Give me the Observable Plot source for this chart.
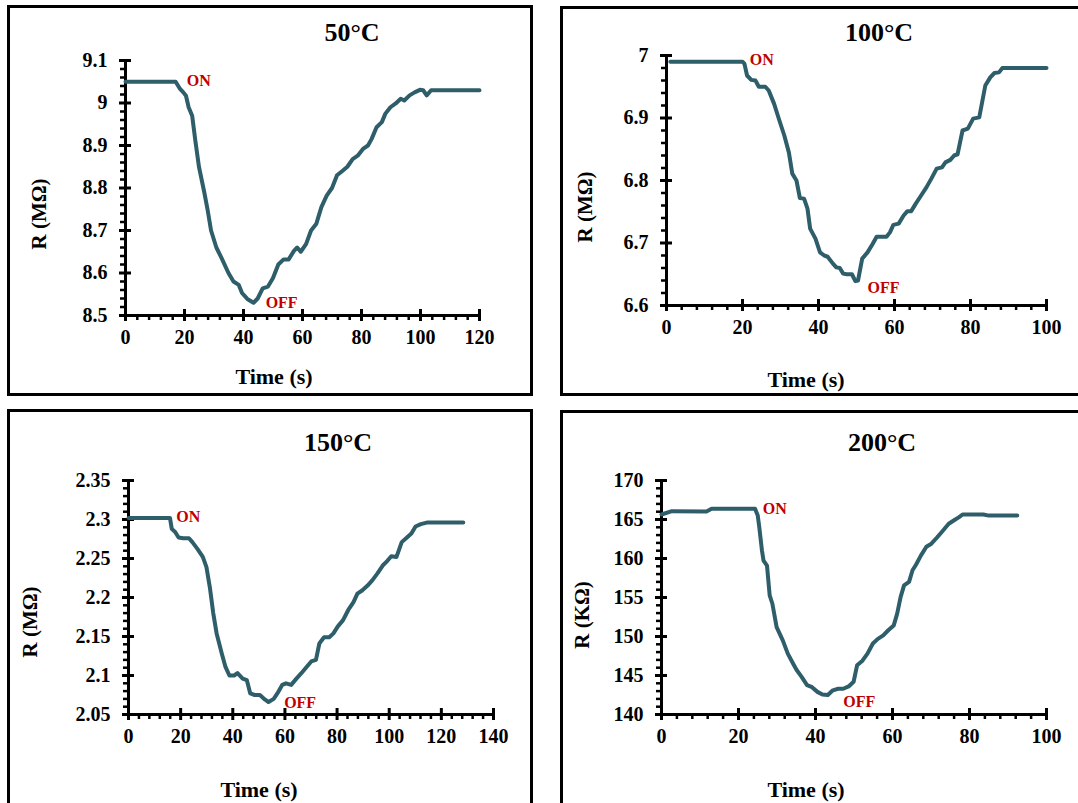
<!DOCTYPE html>
<html><head><meta charset="utf-8">
<script src="https://cdn.jsdelivr.net/npm/d3@7"></script>
<script src="https://cdn.jsdelivr.net/npm/@observablehq/plot@0.6"></script>
<style>
body{margin:0;background:#fff;width:1078px;height:803px;overflow:hidden;position:relative;font-family:"Liberation Serif","Times New Roman",serif;font-weight:bold;}
.box{position:absolute;border:3px solid #000;box-sizing:border-box;}
.lbl{position:absolute;transform:translate(-50%,-50%);white-space:nowrap;color:#000;font-weight:bold;}
.title{font-size:26px;}
.axl{font-size:22px;}
.ylab{transform:translate(-50%,-50%) rotate(-90deg);font-size:21px;}
.plot{position:absolute;}
</style></head><body>
<script>
// ---- Data ----
const t50 = [0,17,18.5,19.6,20.5,21.4,22.6,23.7,24.9,26.7,27.8,29,30.8,32.5,34.9,36.6,38.4,39.5,41.3,43.4,44.8,46.5,48.3,50,51.8,53.6,55.3,57.1,58.2,59.4,61.2,62.9,64.7,66.4,68.2,70,71.7,73.5,75.2,77,78.7,80.5,82.2,83.4,85.1,86.9,88.1,89.8,91.6,93.3,94.5,96.3,98,99.8,100.9,102.1,103.6,120];
const r50 = [9.05,9.05,9.033,9.025,9.017,8.99,8.97,8.91,8.85,8.79,8.75,8.70,8.66,8.636,8.60,8.58,8.572,8.553,8.539,8.53,8.54,8.564,8.568,8.588,8.62,8.632,8.632,8.652,8.66,8.65,8.668,8.70,8.716,8.755,8.782,8.80,8.83,8.84,8.85,8.868,8.876,8.892,8.90,8.915,8.943,8.955,8.975,8.99,8.999,9.01,9.006,9.018,9.025,9.031,9.03,9.018,9.03,9.03];

const t100 = [1,20,20.5,21.2,22.3,23.4,24.3,26,26.9,28.3,29.6,31,32.2,33.1,34.2,35.1,36.2,37.1,37.8,39.2,40.4,41.5,42.4,43.8,44.7,45.6,46.5,47.4,48.8,49.7,50.4,51.5,52.9,54.2,55.3,57.9,58.8,59.7,61.1,62.4,63.4,64.4,65.6,67,68.4,69.7,71.1,72.5,73.4,74.7,75.7,76.6,77.9,79.3,80.7,82.3,83.9,85.2,86.3,87.5,88.4,100];
const r100 = [6.99,6.99,6.987,6.968,6.961,6.96,6.95,6.95,6.944,6.923,6.898,6.872,6.845,6.811,6.80,6.772,6.771,6.755,6.723,6.707,6.685,6.68,6.678,6.667,6.661,6.66,6.651,6.65,6.65,6.639,6.64,6.675,6.685,6.698,6.71,6.71,6.717,6.729,6.731,6.744,6.751,6.751,6.763,6.776,6.789,6.803,6.819,6.821,6.829,6.833,6.84,6.842,6.88,6.883,6.899,6.901,6.952,6.965,6.972,6.973,6.98,6.98];

const t150 = [0,15.9,16.6,17.9,19.2,21,23.2,24.5,26.5,28.5,29.9,31.2,32.5,33.8,35.8,37.2,38.7,40.5,41.8,43.8,45.4,46.7,48.4,50.4,52.4,53.7,55.7,57.1,59,60.4,62.4,64.4,66.3,68.3,70.1,71.9,73.2,75,77,78.6,80.3,82.3,84.3,86.3,87.8,89.6,91.6,93.5,95.5,97.5,99.3,100.8,102.8,104.8,106.8,108.5,110.1,112.1,114.4,128.4];
const r150 = [2.302,2.302,2.288,2.284,2.277,2.276,2.276,2.271,2.262,2.252,2.239,2.213,2.18,2.154,2.128,2.111,2.10,2.10,2.103,2.096,2.094,2.077,2.075,2.075,2.069,2.066,2.07,2.077,2.088,2.09,2.088,2.096,2.103,2.111,2.118,2.12,2.141,2.149,2.149,2.154,2.163,2.171,2.184,2.194,2.205,2.209,2.215,2.222,2.231,2.241,2.247,2.253,2.252,2.271,2.277,2.282,2.291,2.294,2.296,2.296];

const t200 = [0,2.7,11.7,13,24.3,25,25.4,26.1,26.5,27.4,28.1,28.8,29.9,31.5,32.8,34.2,35.1,36.4,37.8,39.1,40.5,41.8,43.2,44.5,45.9,47.2,48.6,49.9,50.8,52.2,53.5,54.9,56.2,57.6,58.9,60.3,61.2,62.1,63,64.3,65.2,66.1,67.4,68.8,70.1,71.5,72.8,74.6,76,77.3,78.2,83.6,85,92.4];
const r200 = [165.64,166.07,166.03,166.37,166.37,165.5,164.02,161.0,159.74,159.1,155.27,154.2,151.2,149.5,147.8,146.5,145.7,144.83,143.77,143.5,142.9,142.56,142.5,143.1,143.3,143.3,143.6,144.2,146.3,146.9,147.8,149.1,149.7,150.15,150.8,151.4,152.9,155.05,156.55,157,158.5,159.2,160.4,161.5,161.9,162.66,163.4,164.45,164.9,165.3,165.64,165.64,165.5,165.5];

const titles = ["50°C", "100°C", "150°C", "200°C"];
const yLabels = ["R (MΩ)", "R (MΩ)", "R (MΩ)", "R (KΩ)"];
const xLabel = "Time (s)";

const xTicks50 = [0,20,40,60,80,100,120];
const yTicks50 = [8.5,8.6,8.7,8.8,8.9,9,9.1];
const xTicks100 = [0,20,40,60,80,100];
const yTicks100 = [6.6,6.7,6.8,6.9,7];
const xTicks150 = [0,20,40,60,80,100,120,140];
const yTicks150 = [2.05,2.1,2.15,2.2,2.25,2.3,2.35];
const xTicks200 = [0,20,40,60,80,100];
const yTicks200 = [140,145,150,155,160,165,170];

// ON / OFF annotation anchors (time, resistance)
const onT = [20.8, 21.9, 18.3, 26.3];
const onR = [9.053, 6.993, 2.303, 166.4];
const offT = [47.5, 52.9, 59.7, 47.2];
const offR = [8.53, 6.629, 2.065, 141.6];

// ---- Layout (pixels) ----
const layout = [
  {box:[7,5,533,396], frame:[125,60,479,315], title:[352,33], ylab:[39,214], xlab:[274,377]},
  {box:[560,6,1095,396], frame:[666,55,1046,305], title:[879,33], ylab:[585,207], xlab:[806,380]},
  {box:[7,409,533,815], frame:[128,480,493,714], title:[338,443], ylab:[30,622], xlab:[259,790]},
  {box:[560,410,1095,815], frame:[661,480,1046,714], title:[882,443], ylab:[582,615], xlab:[806,790]}
];

const series = [[t50,r50],[t100,r100],[t150,r150],[t200,r200]];
const xTicksAll = [xTicks50,xTicks100,xTicks150,xTicks200];
const yTicksAll = [yTicks50,yTicks100,yTicks150,yTicks200];

const LINE = "#2e5e6a";
const RED = "#c00000";
const FONT = "Liberation Serif";

function minorTicks(ticks) {
  const out = [];
  for (let i = 0; i < ticks.length - 1; i++) {
    const a = ticks[i], b = ticks[i+1];
    for (let k = 1; k < 5; k++) out.push(+(a + (b - a) * k / 5).toFixed(6));
  }
  return out;
}

function addDiv(cls, text, x, y) {
  const d = document.createElement("div");
  d.className = cls;
  d.textContent = text;
  d.style.left = x + "px";
  d.style.top = y + "px";
  document.body.appendChild(d);
  return d;
}

layout.forEach((L, i) => {
  const box = document.createElement("div");
  box.className = "box";
  box.style.left = L.box[0] + "px"; box.style.top = L.box[1] + "px";
  box.style.width = (L.box[2] - L.box[0]) + "px"; box.style.height = (L.box[3] - L.box[1]) + "px";
  document.body.appendChild(box);

  const [t, r] = series[i];
  const data = t.map((d, j) => ({t: d, r: r[j]}));
  const xT = xTicksAll[i], yT = yTicksAll[i];
  const ml = 70, mr = 30, mt = 20, mb = 45;
  const [fx0, fy0, fx1, fy1] = L.frame;
  const W = fx1 - fx0 + ml + mr, H = fy1 - fy0 + mt + mb;
  const ann = [{t: onT[i], r: onR[i], s: "ON"}, {t: offT[i], r: offR[i], s: "OFF"}];

  const svg = Plot.plot({
    width: W, height: H,
    marginLeft: ml, marginRight: mr, marginTop: mt, marginBottom: mb,
    x: {domain: [xT[0], xT[xT.length-1]], label: null},
    y: {domain: [yT[0], yT[yT.length-1]], label: null},
    style: {fontFamily: FONT, fontWeight: "bold", fontSize: "20px", color: "#000", background: "transparent", overflow: "visible"},
    marks: [
      Plot.axisX({ticks: minorTicks(xT), tickSize: 5, tickFormat: () => "", strokeWidth: 2.5, label: null}),
      Plot.axisX({ticks: xT, tickSize: 12, dy: -6, tickFormat: () => "", strokeWidth: 3, label: null}),
      Plot.axisX({ticks: xT, tickSize: 0, tickPadding: 14, tickFormat: d => String(d), fontSize: 20, fontWeight: "bold", fontFamily: FONT, label: null}),
      Plot.axisY({ticks: minorTicks(yT), tickSize: 5, tickFormat: () => "", strokeWidth: 2.5, label: null}),
      Plot.axisY({ticks: yT, tickSize: 12, dx: 6, tickFormat: () => "", strokeWidth: 3, label: null}),
      Plot.axisY({ticks: yT, tickSize: 0, tickPadding: 18, tickFormat: d => String(d), fontSize: 20, fontWeight: "bold", fontFamily: FONT, label: null}),
      Plot.ruleX([xT[0]], {stroke: "#000", strokeWidth: 3}),
      Plot.ruleY([yT[0]], {stroke: "#000", strokeWidth: 3}),
      Plot.line(data, {x: "t", y: "r", stroke: LINE, strokeWidth: 4, strokeLinejoin: "round", strokeLinecap: "round"}),
      Plot.text(ann, {x: "t", y: "r", text: "s", textAnchor: "start", fill: RED, fontSize: 16, fontWeight: "bold", fontFamily: FONT})
    ]
  });
  svg.classList.add("plot");
  svg.style.left = (fx0 - ml) + "px";
  svg.style.top = (fy0 - mt) + "px";
  svg.style.position = "absolute";
  document.body.appendChild(svg);

  addDiv("lbl title", titles[i], L.title[0], L.title[1]);
  addDiv("lbl ylab", yLabels[i], L.ylab[0], L.ylab[1]);
  addDiv("lbl axl", xLabel, L.xlab[0], L.xlab[1]);
});
</script>
</body></html>
